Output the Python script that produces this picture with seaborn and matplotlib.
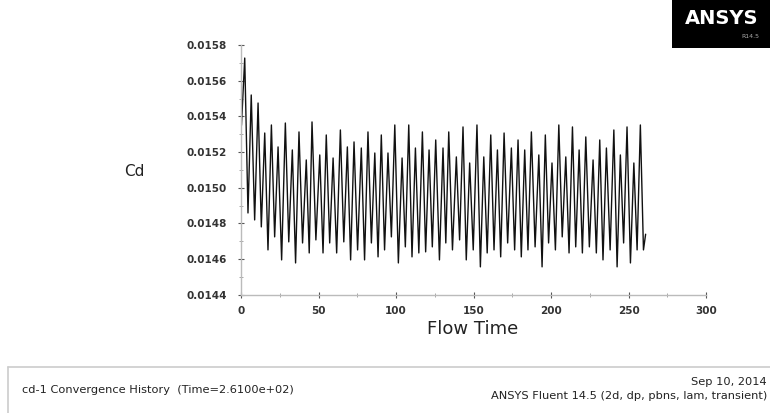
import numpy as np
import pandas as pd
import matplotlib
matplotlib.use("Agg")
import matplotlib.pyplot as plt
import seaborn as sns
from matplotlib.ticker import MultipleLocator, FormatStrFormatter

# ---- data (extrema of the Cd signal) ----
start_time = [0.3]
start_value = [0.01535]

peak_times = [2.4, 6.6, 11.0, 15.3, 19.6, 23.9, 28.6, 33.1, 37.4, 42.1,
              45.8, 50.8, 55.0, 59.4, 64.1, 68.6, 72.9, 77.6, 81.9, 86.3,
              90.5, 94.8, 99.2, 103.9, 108.2, 112.5, 117.0, 121.3, 125.6, 130.3, 134.0,
              138.9, 143.2, 147.5, 152.2, 156.6, 161.1, 165.4, 169.7, 174.4, 178.7,
              183.0, 187.3, 192.1, 196.3, 200.6, 205.0, 209.5, 213.8, 218.1, 222.4,
              227.1, 231.4, 235.7, 240.5, 244.7, 249.0, 253.4, 257.6]
peak_values = [0.015727, 0.015520, 0.015475, 0.015307, 0.015352, 0.015229, 0.015363, 0.015212, 0.015313, 0.015156,
               0.015369, 0.015184, 0.015296, 0.015167, 0.015324, 0.015229, 0.015257, 0.015223, 0.015313, 0.015195,
               0.015296, 0.015195, 0.015352, 0.015167, 0.015352, 0.015223, 0.015313, 0.015212, 0.015268, 0.015223, 0.015313,
               0.015173, 0.015341, 0.015139, 0.015352, 0.015173, 0.015296, 0.015212, 0.015307, 0.015223, 0.015268,
               0.015212, 0.015313, 0.015184, 0.015296, 0.015139, 0.015352, 0.015173, 0.015341, 0.015212, 0.015285,
               0.015156, 0.015268, 0.015223, 0.015324, 0.015184, 0.015341, 0.015139, 0.015352]

trough_times = [4.5, 8.8, 13.1, 17.4, 21.7, 26.2, 30.8, 35.2, 39.7, 44.0,
                48.3, 52.9, 57.2, 61.7, 66.3, 70.7, 75.2, 79.7, 84.1, 88.4,
                92.6, 97.0, 101.5, 106.0, 110.3, 114.7, 119.1, 123.4, 128.0, 132.1, 136.4,
                141.0, 145.3, 149.8, 154.4, 158.8, 163.2, 167.5, 172.0, 176.5, 180.8,
                185.1, 189.7, 194.2, 198.4, 202.8, 207.2, 211.6, 215.9, 220.2, 224.7,
                229.2, 233.5, 238.1, 242.6, 246.8, 251.2, 255.5, 259.6]
trough_values = [0.014859, 0.014820, 0.014781, 0.014652, 0.014725, 0.014596, 0.014697, 0.014579, 0.014691, 0.014635,
                 0.014708, 0.014635, 0.014691, 0.014635, 0.014697, 0.014596, 0.014652, 0.014596, 0.014691, 0.014613,
                 0.014652, 0.014725, 0.014579, 0.014669, 0.014613, 0.014635, 0.014641, 0.014669, 0.014596, 0.014691, 0.014652,
                 0.014708, 0.014596, 0.014652, 0.014557, 0.014635, 0.014652, 0.014613, 0.014691, 0.014652, 0.014613,
                 0.014652, 0.014669, 0.014557, 0.014691, 0.014652, 0.014725, 0.014635, 0.014669, 0.014635, 0.014669,
                 0.014635, 0.014596, 0.014652, 0.014557, 0.014691, 0.014579, 0.014652, 0.014652]

end_time = [261.0]
end_value = [0.01474]

x_ticks = [0, 50, 100, 150, 200, 250, 300]
y_ticks = [0.0144, 0.0146, 0.0148, 0.0150, 0.0152, 0.0154, 0.0156, 0.0158]

df = pd.DataFrame({
    "Flow Time": start_time + peak_times + trough_times + end_time,
    "Cd": start_value + peak_values + trough_values + end_value,
}).sort_values("Flow Time")

sns.set_style("white")
plt.rcParams['font.family'] = ['DejaVu Sans']

fig = plt.figure(figsize=(7.7, 4.13), dpi=100)
ax = fig.add_axes([0.313, 0.286, 0.604, 0.605])

sns.lineplot(data=df, x="Flow Time", y="Cd", ax=ax, color="#111111",
             linewidth=1.0, sort=True, estimator=None)

ax.set_xlim(0, 300)
ax.set_ylim(0.0144, 0.0158)
ax.set_xticks(x_ticks)
ax.set_yticks(y_ticks)
ax.xaxis.set_minor_locator(MultipleLocator(25))
ax.yaxis.set_minor_locator(MultipleLocator(0.0001))
ax.yaxis.set_major_formatter(FormatStrFormatter('%.4f'))
ax.tick_params(axis='both', which='major', direction='inout', length=4, width=0.8,
               color='#555555', labelsize=7.5, labelcolor='#333333')
ax.tick_params(axis='y', which='major', pad=8)
ax.tick_params(axis='x', which='major', pad=6)
ax.tick_params(axis='both', which='minor', direction='inout', length=2.5, width=0.6,
               color='#999999')
ax.tick_params(axis='x', which='both', bottom=True)
ax.tick_params(axis='y', which='both', left=True)
for lbl in ax.get_xticklabels() + ax.get_yticklabels():
    lbl.set_fontweight('bold')

for s in ['top', 'right']:
    ax.spines[s].set_visible(False)
for s in ['left', 'bottom']:
    ax.spines[s].set_color('#bbbbbb')
    ax.spines[s].set_linewidth(1.0)

ax.set_xlabel("")
ax.set_ylabel("")
fig.text(134 / 770, 1 - 172 / 413, "Cd", fontsize=11, ha='center', va='center', color='#222222')
fig.text(473 / 770, 1 - 329 / 413, "Flow Time", fontsize=13, ha='center', va='center', color='#222222')

# ANSYS logo
fig.patches.append(plt.Rectangle((672 / 770, 1 - 48 / 413), 98 / 770, 48 / 413,
                                 transform=fig.transFigure, facecolor='black',
                                 edgecolor='none'))
fig.text(722 / 770, 1 - 19 / 413, "ANSYS", fontsize=14, fontweight='bold', color='white',
         ha='center', va='center')
fig.text(759 / 770, 1 - 37 / 413, "R14.5", fontsize=4.5, color='#aaaaaa',
         ha='right', va='center')

# footer frame
fig.add_artist(plt.Line2D([8 / 770, 1.0], [1 - 367 / 413, 1 - 367 / 413],
                          transform=fig.transFigure, color='#cccccc', linewidth=1.2))
fig.add_artist(plt.Line2D([8 / 770, 8 / 770], [0, 1 - 367 / 413],
                          transform=fig.transFigure, color='#cccccc', linewidth=1.2))
fig.text(22 / 770, 1 - 390 / 413, "cd-1 Convergence History  (Time=2.6100e+02)",
         fontsize=8.2, color='#222222', ha='left', va='center')
fig.text(767 / 770, 1 - 382 / 413, "Sep 10, 2014", fontsize=8.2, color='#222222',
         ha='right', va='center')
fig.text(767 / 770, 1 - 396 / 413, "ANSYS Fluent 14.5 (2d, dp, pbns, lam, transient)",
         fontsize=8.2, color='#222222', ha='right', va='center')

fig.savefig("out.png", dpi=100, facecolor='white')
